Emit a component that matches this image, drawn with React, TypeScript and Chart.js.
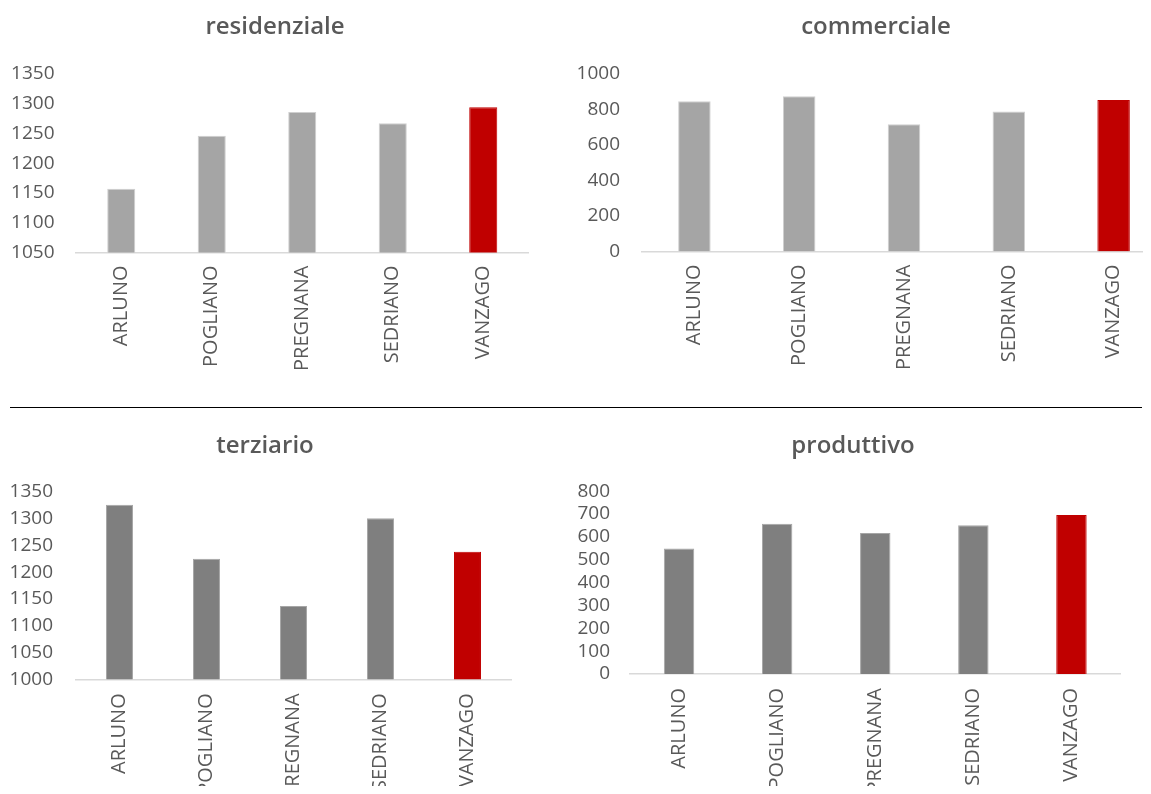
import React, { useEffect, useRef } from "react";
import { Chart, registerables } from "chart.js";

Chart.register(...registerables);

// Comuni compared in every panel
const comuni = ["ARLUNO", "POGLIANO", "PREGNANA", "SEDRIANO", "VANZAGO"];

// Values per comune, one array per use
const residenziale = [1157, 1246, 1286, 1267, 1294];
const commerciale = [846, 874, 717, 788, 853];
const terziario = [1326, 1225, 1137, 1301, 1238];
const produttivo = [549, 658, 617, 651, 696];

// Y axis ranges: [min, max, step]
const residenzialeAxis = [1050, 1350, 50];
const commercialeAxis = [0, 1000, 200];
const terziarioAxis = [1000, 1350, 50];
const produttivoAxis = [0, 800, 100];

const highlighted = "VANZAGO";
const RED = "#c00000";
const TEXT = "#595959";
const FONT = "'Open Sans', 'Noto Sans', sans-serif";

type Box = {
  left: number;
  top: number;
  width: number;
  height: number;
  yWidth: number;
  xHeight: number;
  padRight: number;
  titleTop: number;
  titleBottom: number;
  tickPad: number;
  labelPad: number;
};

type PanelProps = {
  title: string;
  values: number[];
  axis: number[];
  barColor: string;
  edgeColor: string;
  box: Box;
};

function Panel({ title, values, axis, barColor, edgeColor, box }: PanelProps) {
  const ref = useRef<HTMLCanvasElement | null>(null);

  useEffect(() => {
    if (!ref.current) return;
    const colors = comuni.map((c) => (c === highlighted ? RED : barColor));
    const borders = comuni.map((c) => (c === highlighted ? RED : edgeColor));
    const chart = new Chart(ref.current, {
      type: "bar",
      data: {
        labels: comuni,
        datasets: [
          {
            label: title,
            data: values,
            backgroundColor: colors,
            borderColor: borders,
            borderWidth: 1,
            categoryPercentage: 1,
            barPercentage: 0.31,
          },
        ],
      },
      options: {
        animation: false,
        responsive: false,
        devicePixelRatio: 1,
        layout: { padding: 0 },
        plugins: {
          legend: { display: false },
          tooltip: { enabled: false },
          title: {
            display: true,
            text: title,
            color: TEXT,
            font: { family: FONT, size: 24, weight: 600 },
            padding: { top: box.titleTop, bottom: box.titleBottom },
          },
        },
        scales: {
          x: {
            grid: { display: false, drawTicks: false },
            border: { display: true, color: "#d9d9d9", width: 1.5 },
            ticks: {
              color: TEXT,
              font: { family: FONT, size: 20 },
              minRotation: 90,
              maxRotation: 90,
              autoSkip: false,
              padding: box.labelPad,
            },
            afterFit: (scale: any) => {
              scale.height = box.xHeight;
            },
          },
          y: {
            min: axis[0],
            max: axis[1],
            grid: { display: false, drawTicks: false },
            border: { display: false },
            ticks: {
              stepSize: axis[2],
              color: TEXT,
              autoSkip: false,
              font: { family: FONT, size: 19 },
              padding: box.tickPad,
              callback: (value: any) => String(value),
            },
            afterFit: (scale: any) => {
              scale.width = box.yWidth;
            },
          },
          // empty right-hand margin so the title stays centred on the whole panel
          margin: {
            position: "right",
            min: axis[0],
            max: axis[1],
            grid: { display: false, drawTicks: false },
            border: { display: false },
            ticks: { display: false },
            afterFit: (scale: any) => {
              scale.width = box.padRight;
            },
          },
        },
      },
    });
    return () => chart.destroy();
  }, [title, values, axis, barColor, edgeColor, box]);

  return (
    <canvas
      ref={ref}
      width={box.width}
      height={box.height}
      style={{
        position: "absolute",
        left: box.left,
        top: box.top,
        width: box.width,
        height: box.height,
      }}
    />
  );
}

const boxes: Record<string, Box> = {
  residenziale: {
    left: 0, top: 0, width: 550, height: 400,
    yWidth: 76, xHeight: 147.5, padRight: 21.5,
    titleTop: 12.6, titleBottom: 32.5, tickPad: 21.5, labelPad: 13,
  },
  commerciale: {
    left: 572, top: 0, width: 608, height: 400,
    yWidth: 70, xHeight: 148.5, padRight: 14,
    titleTop: 12.6, titleBottom: 32.5, tickPad: 22, labelPad: 13,
  },
  terziario: {
    left: 0, top: 400, width: 530, height: 394,
    yWidth: 76, xHeight: 114.7, padRight: 19,
    titleTop: 31.6, titleBottom: 31.5, tickPad: 23, labelPad: 14,
  },
  produttivo: {
    left: 572, top: 400, width: 562, height: 394,
    yWidth: 58, xHeight: 120, padRight: 13.5,
    titleTop: 31.6, titleBottom: 30.8, tickPad: 20, labelPad: 14,
  },
};

export default function App() {
  return (
    <div
      style={{
        position: "relative",
        width: 1151,
        height: 794,
        margin: -8,
        overflow: "hidden",
        background: "#ffffff",
      }}
    >
      <Panel title="residenziale" values={residenziale} axis={residenzialeAxis}
        barColor="#a5a5a5" edgeColor="#cfcfcf" box={boxes.residenziale} />
      <Panel title="commerciale" values={commerciale} axis={commercialeAxis}
        barColor="#a5a5a5" edgeColor="#cfcfcf" box={boxes.commerciale} />
      <div
        style={{
          position: "absolute",
          left: 10,
          top: 406.5,
          width: 1132,
          height: 1.5,
          background: "#000000",
        }}
      />
      <Panel title="terziario" values={terziario} axis={terziarioAxis}
        barColor="#7f7f7f" edgeColor="#a6a6a6" box={boxes.terziario} />
      <Panel title="produttivo" values={produttivo} axis={produttivoAxis}
        barColor="#7f7f7f" edgeColor="#a6a6a6" box={boxes.produttivo} />
    </div>
  );
}
